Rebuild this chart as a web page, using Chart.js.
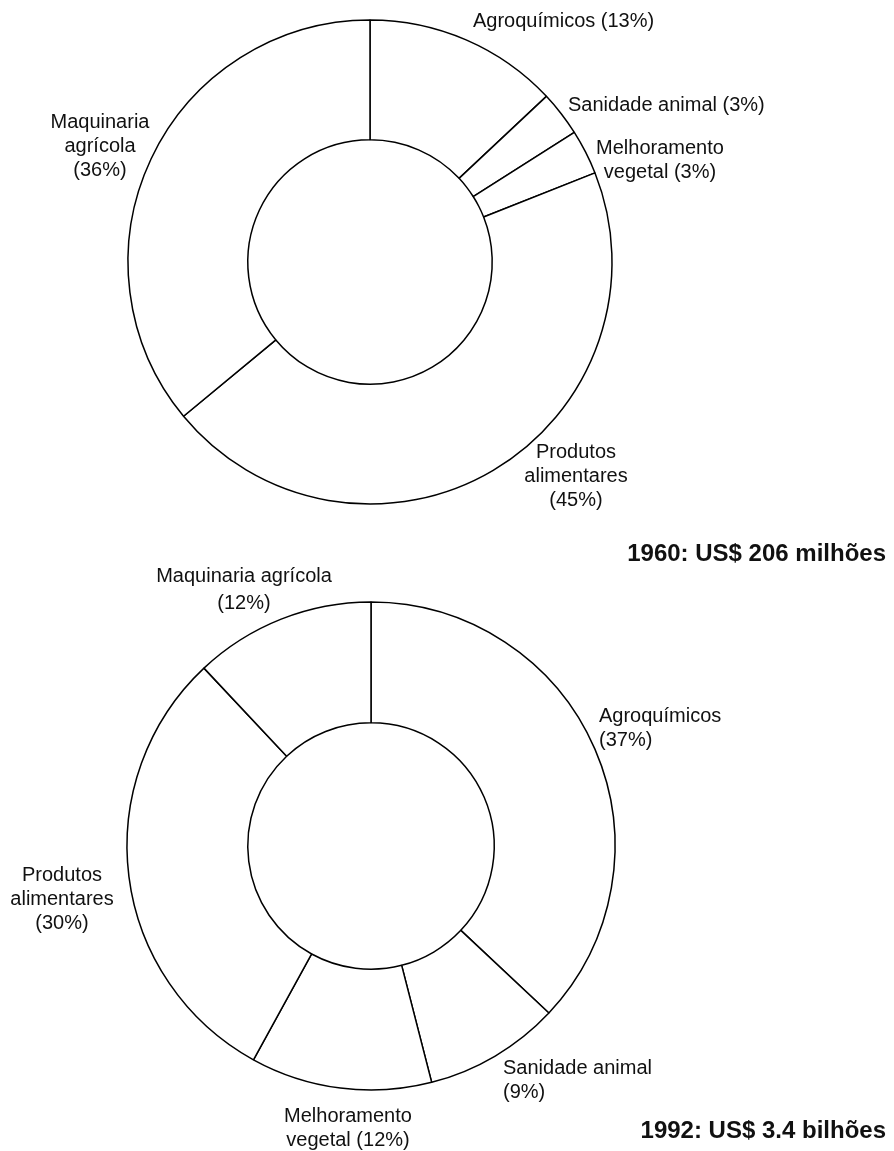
<!DOCTYPE html>
<html lang="pt">
<head>
  <meta charset="UTF-8">
  <title>Mercado de insumos agrícolas 1960 / 1992</title>
  <script src="https://cdn.jsdelivr.net/npm/chart.js"></script>
  <style>
    html, body {
      margin: 0;
      padding: 0;
      background: #fff;
    }
    .wrap {
      position: relative;
      width: 894px;
      height: 1151px;
    }
    canvas {
      position: absolute;
      left: 0;
    }
  </style>
</head>
<body>
  <div class="wrap">
    <canvas id="chart1960" width="894" height="575" style="top:0"></canvas>
    <canvas id="chart1992" width="894" height="611" style="top:540px"></canvas>
  </div>

  <script>
    // dados
    const categories = ['Agroquímicos', 'Sanidade animal', 'Melhoramento vegetal', 'Produtos alimentares', 'Maquinaria agrícola'];
    const shares1960 = [13, 3, 3, 45, 36];
    const shares1992 = [37, 9, 12, 30, 12];
    const total1960 = '1960: US$ 206 milhões';
    const total1992 = '1992: US$ 3.4 bilhões';

    const FONT = '"Liberation Sans", Arial, sans-serif';
    const BORDER = 1.5;
    const TOP2 = 540; // topo do segundo canvas na página

    // quebra de linha dos rótulos
    function labelLines(name, pct, form) {
      const p = '(' + pct + '%)';
      if (form === 'inline') return [name + ' ' + p];
      if (form === 'pctBelow') return [name, p];
      if (form === 'words') return name.split(' ').concat([p]);
      const w = name.split(' ');
      return [w[0], w.slice(1).join(' ') + ' ' + p];
    }

    // posição dos rótulos (px na página), na ordem das categorias
    const layout1960 = [
      { x: 473, y: 21, align: 'left', form: 'inline' },
      { x: 568, y: 105, align: 'left', form: 'inline' },
      { x: 660, y: 148, align: 'center', form: 'split' },
      { x: 576, y: 452, align: 'center', form: 'words' },
      { x: 100, y: 122, align: 'center', form: 'words' }
    ];
    const layout1992 = [
      { x: 599, y: 716, align: 'left', form: 'pctBelow' },
      { x: 503, y: 1068, align: 'left', form: 'pctBelow' },
      { x: 348, y: 1116, align: 'center', form: 'split' },
      { x: 62, y: 875, align: 'center', form: 'words' },
      { x: 244, y: 576, align: 'center', form: 'pctBelow', lh: 27 }
    ];

    const labelsPlugin = {
      id: 'ringLabels',
      afterDraw(chart, args, opts) {
        const ctx = chart.ctx;
        const values = chart.data.datasets[0].data;
        const dy = opts.offsetY;
        ctx.save();
        ctx.fillStyle = '#111';
        ctx.textBaseline = 'middle';
        ctx.font = '20px ' + FONT;
        opts.layout.forEach((l, i) => {
          const lines = labelLines(chart.data.labels[i], values[i], l.form);
          ctx.textAlign = l.align;
          lines.forEach((t, k) => ctx.fillText(t, l.x, l.y - dy + k * (l.lh || 24)));
        });
        ctx.font = 'bold 24px ' + FONT;
        ctx.textAlign = 'right';
        ctx.fillText(opts.title, 886, opts.titleY - dy);
        ctx.restore();
      }
    };

    // padding para colocar o centro e o raio do anel
    function padFor(cx, cy, r, w, h) {
      const side = 2 * r + BORDER;
      const left = cx - side / 2, top = cy - side / 2;
      return { left: left, top: top, right: w - left - side, bottom: h - top - side };
    }

    function ring(id, values, layout, title, titleY, offsetY, pad) {
      return new Chart(document.getElementById(id), {
        type: 'doughnut',
        data: {
          labels: categories,
          datasets: [{
            data: values,
            backgroundColor: '#ffffff',
            borderColor: '#000000',
            borderWidth: BORDER
          }]
        },
        options: {
          responsive: false,
          animation: false,
          cutout: '50.5%',
          layout: { padding: pad },
          plugins: {
            legend: { display: false },
            tooltip: { enabled: false },
            ringLabels: { layout: layout, title: title, titleY: titleY, offsetY: offsetY }
          }
        },
        plugins: [labelsPlugin]
      });
    }

    ring('chart1960', shares1960, layout1960, total1960, 554, 0, padFor(370, 262, 242, 894, 575));
    ring('chart1992', shares1992, layout1992, total1992, 1131, TOP2, padFor(371, 846 - TOP2, 244, 894, 1151 - TOP2));
  </script>
</body>
</html>
